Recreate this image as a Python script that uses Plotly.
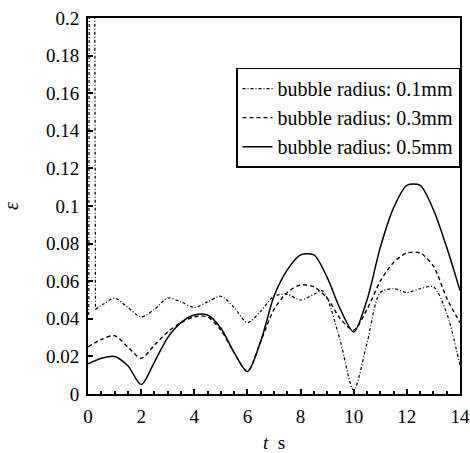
import plotly.graph_objects as go

t_half = [0, 0.5, 1.0, 1.5, 2.0, 2.5, 3.0, 3.5, 4.0, 4.5, 5.0, 5.5, 6.0, 6.5, 7.0,
          7.5, 8.0, 8.5, 9.0, 9.5, 10.0, 10.5, 11.0, 11.5, 12.0, 12.5, 13.0, 13.5, 14.0]

eps_05 = [0.016, 0.019, 0.020, 0.015, 0.005, 0.017, 0.030, 0.038, 0.042, 0.042, 0.035,
          0.022, 0.012, 0.028, 0.052, 0.066, 0.074, 0.074, 0.062, 0.045, 0.033, 0.050,
          0.078, 0.099, 0.111, 0.111, 0.098, 0.078, 0.055]

eps_03 = [0.025, 0.029, 0.031, 0.025, 0.019, 0.026, 0.033, 0.038, 0.041, 0.041, 0.034,
          0.022, 0.012, 0.028, 0.045, 0.054, 0.058, 0.057, 0.051, 0.040, 0.034, 0.045,
          0.060, 0.070, 0.075, 0.075, 0.068, 0.051, 0.038]

t_01 = [0.28, 0.6, 1.0, 1.5, 2.0, 2.5, 3.0, 3.5, 4.0, 4.5, 5.0, 5.5, 6.0, 6.5, 7.0,
        7.5, 8.0, 8.5, 8.8, 9.0, 9.5, 10.0, 10.5, 11.0, 11.5, 12.0, 12.5, 13.0, 13.5, 14.0]
eps_01 = [0.045, 0.048, 0.051, 0.046, 0.041, 0.045, 0.051, 0.049, 0.046, 0.049, 0.052,
          0.046, 0.038, 0.044, 0.052, 0.053, 0.050, 0.053, 0.055, 0.051, 0.028, 0.002,
          0.027, 0.054, 0.056, 0.054, 0.056, 0.057, 0.043, 0.015]

# initial spike of the 0.1 mm curve (goes far above the axis range)
t_spike = [0.03, 0.05, 0.25, 0.28]
eps_spike = [0.042, 0.25, 0.25, 0.045]

labels = ["bubble radius: 0.1mm", "bubble radius: 0.3mm", "bubble radius: 0.5mm"]

FONT = "Liberation Serif"

fig = go.Figure()
fig.add_trace(go.Scatter(x=t_spike, y=eps_spike, mode="lines", showlegend=False,
                         line=dict(color="black", width=1.2, dash="3px,2px,1px,2px")))
fig.add_trace(go.Scatter(x=t_01, y=eps_01, mode="lines", name=labels[0],
                         line=dict(color="black", width=1.2, dash="3px,2px,1px,2px",
                                   shape="spline", smoothing=0.8)))
fig.add_trace(go.Scatter(x=t_half, y=eps_03, mode="lines", name=labels[1],
                         line=dict(color="black", width=1.4, dash="4px,3px",
                                   shape="spline", smoothing=0.8)))
fig.add_trace(go.Scatter(x=t_half, y=eps_05, mode="lines", name=labels[2],
                         line=dict(color="black", width=1.5,
                                   shape="spline", smoothing=0.8)))

axis_common = dict(showline=True, linecolor="black", linewidth=2, mirror=True,
                   ticks="inside", ticklen=5, tickcolor="black", tickwidth=1.5,
                   showgrid=False, zeroline=False, ticklabeloverflow="allow",
                   tickfont=dict(family=FONT, size=19, color="black"))

fig.update_xaxes(range=[0, 14], dtick=2, tick0=0, ticklabelstandoff=4, automargin=False,
                 title=dict(text="<i>t</i>  s", font=dict(family=FONT, size=19, color="black"),
                            standoff=12),
                 minor=dict(ticks="inside", ticklen=3, dtick=0.5, tickcolor="black"),
                 **axis_common)
fig.update_yaxes(range=[0, 0.2], dtick=0.02, tick0=0, ticklabelstandoff=3,
                 title=dict(text="<i>ε</i>", font=dict(family=FONT, size=20, color="black"),
                            standoff=24),
                 **axis_common)

fig.update_layout(
    width=470, height=453,
    margin=dict(l=87, r=8, t=15, b=59),
    paper_bgcolor="white", plot_bgcolor="white",
    showlegend=True,
    legend=dict(x=1, xanchor="right", y=0.868, yanchor="top",
                bgcolor="white", bordercolor="black", borderwidth=1.5,
                font=dict(family=FONT, size=20, color="black"),
                tracegroupgap=0, itemwidth=30),
)

fig.write_html("out.html", config={"displayModeBar": False},
               post_script="document.body.style.margin='0';document.body.style.overflow='hidden';")
